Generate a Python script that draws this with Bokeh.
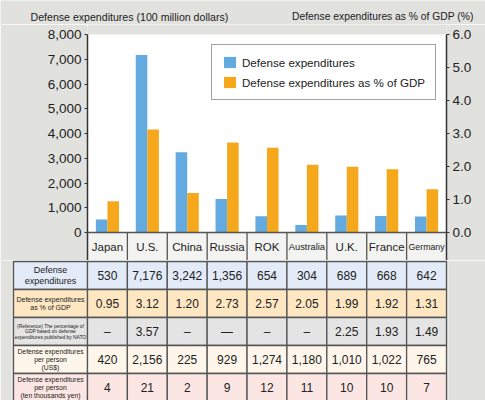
from bokeh.plotting import figure
from bokeh.models import (Range1d, LinearAxis, FixedTicker, NumeralTickFormatter,
                          ColumnDataSource, Legend, LegendItem, Span)
from bokeh.layouts import column
from bokeh.transform import dodge
from bokeh.core.properties import value
from bokeh.embed import file_html
from bokeh.resources import INLINE

# ---------------- data ----------------
countries = ["Japan", "U.S.", "China", "Russia", "ROK", "Australia", "U.K.", "France", "Germany"]
expenditures = [530, 7176, 3242, 1356, 654, 304, 689, 668, 642]          # 100 million dollars
gdp_pct = [0.95, 3.12, 1.20, 2.73, 2.57, 2.05, 1.99, 1.92, 1.31]         # %
nato_pct = ["–", "3.57", "–", "—", "–", "–", "2.25", "1.93", "1.49"]
per_person_usd = [420, 2156, 225, 929, 1274, 1180, 1010, 1022, 765]
per_person_10k_yen = [4, 21, 2, 9, 12, 11, 10, 10, 7]
left_ticks = [0, 1000, 2000, 3000, 4000, 5000, 6000, 7000, 8000]
right_ticks = [0, 1, 2, 3, 4, 5, 6]
row_labels = [
    "Defense\nexpenditures",
    "Defense expenditures\nas % of GDP",
    "(Reference) The percentage of\nGDP based on defense\nexpenditures published by NATO",
    "Defense expenditures\nper person\n(US$)",
    "Defense expenditures\nper person\n(ten thousands yen)",
]
left_title = "Defense expenditures (100 million dollars)"
right_title = "Defense expenditures as % of GDP (%)"
legend_labels = ["Defense expenditures", "Defense expenditures as % of GDP"]

# ---------------- style / layout ----------------
FONT = "Liberation Sans"
BG = "#e1e1de"
BLUE = "#62aadf"
ORANGE = "#f5a81c"
TXT = "#222222"
GRID_LINE = "#555555"
ROW_COLORS = ["#e2ebf7", "#fde6c2", "#e4e4e4", "#fef6ea", "#fbe6e3"]
CAT_FILL = "#f3f3f1"

W = 485
T_H = 24             # title strip
A_TOP_PX = T_H
A_H = 260 - T_H
B_H = 400 - 260
TOP_PX = 34          # y pixel of 8000 / 6.0
ZERO_PX = 232        # y pixel of 0
LEFT_PX = 87
RIGHT_PX = 446
N = len(countries)
COLW = (RIGHT_PX - LEFT_PX) / N
PX_PER_UNIT_L = (ZERO_PX - TOP_PX) / left_ticks[-1]
PX_PER_UNIT_R = (ZERO_PX - TOP_PX) / right_ticks[-1]
CAT_ROW_PX = 260 - ZERO_PX
ROW_PX = 28
TABLE_LEFT_PX = 13

def px_x(px):
    return (px - LEFT_PX) / COLW - 0.5

idx = list(range(N))

# ---------------- title strip ----------------
t = figure(width=W, height=T_H, output_backend="svg", toolbar_location=None,
           x_range=Range1d(0, W), y_range=Range1d(T_H, 0),
           x_axis_location=None, y_axis_location=None,
           min_border_left=0, min_border_right=0, min_border_top=0, min_border_bottom=0,
           background_fill_color=BG, border_fill_color=BG, outline_line_color=None,
           frame_align=False)
t.grid.visible = False
t.text(x=[30], y=[16], text=[left_title], text_align="left", text_baseline="middle",
       text_font=value(FONT), text_font_size="10.6px", text_color=TXT)
t.text(x=[473], y=[16], text=[right_title], text_align="right", text_baseline="middle",
       text_font=value(FONT), text_font_size="10.3px", text_color=TXT)

# ---------------- chart figure ----------------
yl_bottom = -CAT_ROW_PX / PX_PER_UNIT_L
yl_top = left_ticks[-1] + (TOP_PX - A_TOP_PX) / PX_PER_UNIT_L
yr_bottom = -CAT_ROW_PX / PX_PER_UNIT_R
yr_top = right_ticks[-1] + (TOP_PX - A_TOP_PX) / PX_PER_UNIT_R

p = figure(width=W, height=A_H, output_backend="svg", toolbar_location=None,
           x_range=Range1d(-0.5, N - 0.5), y_range=Range1d(yl_bottom, yl_top),
           x_axis_location=None, y_axis_location="left",
           min_border_left=LEFT_PX, min_border_right=W - RIGHT_PX,
           min_border_top=0, min_border_bottom=0,
           background_fill_color=BG, border_fill_color=BG,
           outline_line_color=None, frame_align=False)
p.extra_y_ranges = {"pct": Range1d(yr_bottom, yr_top)}
p.grid.visible = False

src = ColumnDataSource(dict(x=idx, exp=expenditures, pct=gdp_pct))

# white plotting area and category row
p.quad(left=[-0.5], right=[N - 0.5], bottom=[0], top=[left_ticks[-1]],
       fill_color="white", line_color=None)
p.quad(left=[-0.5], right=[N - 0.5], bottom=[yl_bottom], top=[0],
       fill_color=CAT_FILL, line_color=None)
p.segment(x0=[i + 0.5 for i in idx[:-1]], x1=[i + 0.5 for i in idx[:-1]],
          y0=[yl_bottom] * (N - 1), y1=[0] * (N - 1),
          line_color=GRID_LINE, line_width=1.3)
cat_sizes = ["9.3px" if c == "Australia" else "8.8px" if c == "Germany" else "11.5px"
             for c in countries]
cat_src = ColumnDataSource(dict(x=idx, y=[yl_bottom / 2 - 40] * N, t=countries, s=cat_sizes))
p.text(x="x", y="y", text="t", source=cat_src, text_align="center",
       text_baseline="middle", text_font=value(FONT), text_font_size="s",
       text_color=TXT)

rb = p.vbar(x=dodge("x", -0.145, range=p.x_range), top="exp", bottom=0, width=0.29,
            source=src, fill_color=BLUE, line_color=None)
ro = p.vbar(x=dodge("x", 0.145, range=p.x_range), top="pct", bottom=0, width=0.29,
            source=src, fill_color=ORANGE, line_color=None, y_range_name="pct")

p.add_layout(Span(location=0, dimension="width", line_color=GRID_LINE, line_width=1.5))

# axes
ya = p.yaxis[0]
ya.ticker = FixedTicker(ticks=left_ticks)
ya.formatter = NumeralTickFormatter(format="0,0")
ya.bounds = (yl_bottom, left_ticks[-1])
ra = LinearAxis(y_range_name="pct", ticker=FixedTicker(ticks=right_ticks),
                formatter=NumeralTickFormatter(format="0.0"),
                bounds=(yr_bottom, right_ticks[-1]))
p.add_layout(ra, "right")
for ax in (ya, ra):
    ax.axis_line_color = "#333333"
    ax.axis_line_width = 1.5
    ax.major_tick_line_color = "#333333"
    ax.major_tick_line_width = 1.2
    ax.major_tick_in = 0
    ax.major_tick_out = 3
    ax.minor_tick_line_color = None
    ax.major_label_text_font = FONT
    ax.major_label_text_font_size = "13.5px"
    ax.major_label_text_color = TXT
    ax.major_label_standoff = 3

legend = Legend(items=[LegendItem(label=legend_labels[0], renderers=[rb]),
                       LegendItem(label=legend_labels[1], renderers=[ro])],
                location=(211 - LEFT_PX, 260 - 100),
                border_line_color="#444444", border_line_width=1.2,
                background_fill_color="white", background_fill_alpha=1,
                padding=10, spacing=6, margin=0, glyph_width=15, glyph_height=14,
                label_standoff=5, label_text_font=FONT, label_text_font_size="11.6px",
                label_text_color=TXT, label_height=14)
p.add_layout(legend)

# ---------------- table figure ----------------
n_rows = len(row_labels)
q = figure(width=W, height=B_H, output_backend="svg", toolbar_location=None,
           x_range=Range1d(px_x(TABLE_LEFT_PX - 2), px_x(RIGHT_PX + 2)),
           y_range=Range1d((B_H - 1) / ROW_PX, -1 / ROW_PX),
           x_axis_location=None, y_axis_location=None,
           min_border_left=TABLE_LEFT_PX - 2, min_border_right=W - RIGHT_PX - 2,
           min_border_top=0, min_border_bottom=0,
           background_fill_color=BG, border_fill_color=BG, outline_line_color=None,
           frame_align=False)
q.grid.visible = False

table_values = [
    [f"{v:,}" for v in expenditures],
    [f"{v:.2f}" for v in gdp_pct],
    list(nato_pct),
    [f"{v:,}" for v in per_person_usd],
    [str(v) for v in per_person_10k_yen],
]

L, R, T, Bt, F = [], [], [], [], []
for r in range(n_rows):
    L.append(px_x(TABLE_LEFT_PX)); R.append(-0.5); T.append(r); Bt.append(r + 1); F.append(ROW_COLORS[r])
    for i in idx:
        L.append(i - 0.5); R.append(i + 0.5); T.append(r); Bt.append(r + 1); F.append(ROW_COLORS[r])
q.quad(left=L, right=R, top=T, bottom=Bt, fill_color=F, line_color=GRID_LINE, line_width=1.3)

vx, vy, vt = [], [], []
for r in range(n_rows):
    for i in idx:
        vx.append(i); vy.append(r + 0.5); vt.append(table_values[r][i])
q.text(x=vx, y=vy, text=vt, text_align="center", text_baseline="middle",
       text_font=value(FONT), text_font_size="12px", text_color=TXT)

label_sizes = ["9px", "7px", "4.9px", "6.8px", "6.8px"]
lab_src = ColumnDataSource(dict(x=[(px_x(TABLE_LEFT_PX) - 0.5) / 2] * n_rows,
                                y=[r + 0.5 for r in range(n_rows)],
                                t=row_labels, s=label_sizes))
q.text(x="x", y="y", text="t", source=lab_src, text_align="center",
       text_baseline="middle", text_font=value(FONT), text_font_size="s",
       text_color=TXT, text_line_height=1.1)

layout = column(t, p, q, spacing=0)
open("out.html", "w").write(file_html(layout, INLINE))
